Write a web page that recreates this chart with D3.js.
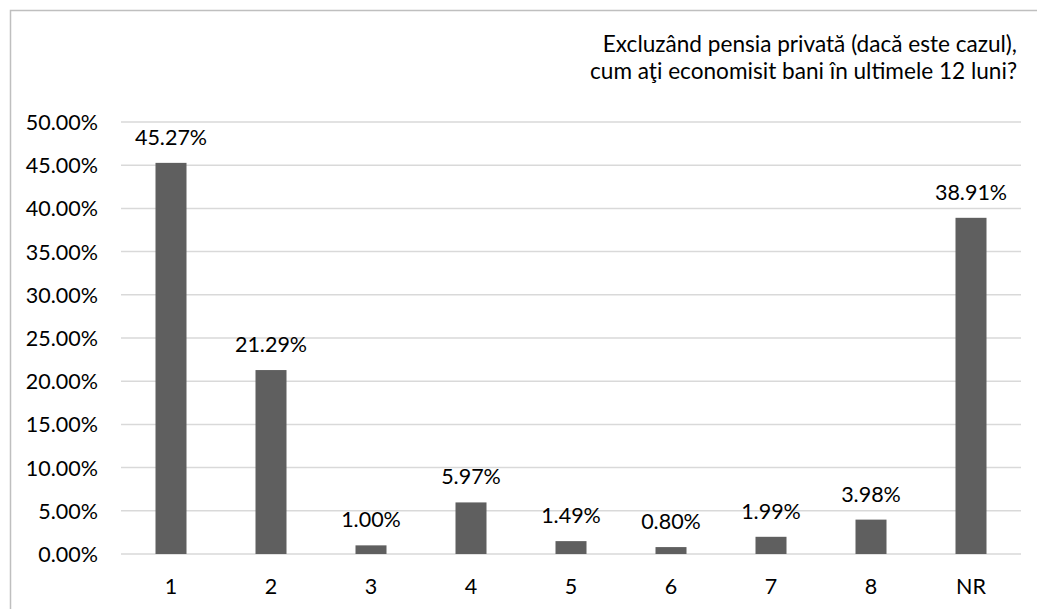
<!DOCTYPE html>
<html><head><meta charset="utf-8">
<script src="https://cdn.jsdelivr.net/npm/d3@7"></script>
<style>
body{margin:0;background:#fff;}
svg{display:block;}
text{font-family:Lato,"Open Sans",sans-serif;fill:#000;}
</style></head>
<body>
<svg id="c" width="1037" height="609"></svg>
<script>
const categories = ["1","2","3","4","5","6","7","8","NR"];
const values = [45.27, 21.29, 1.00, 5.97, 1.49, 0.80, 1.99, 3.98, 38.91];
const yTicks = [0,5,10,15,20,25,30,35,40,45,50];
const titleLines = ["Excluzând pensia privată (dacă este cazul),", "cum aţi economisit bani în ultimele 12 luni?"];

const svg = d3.select("#c");
const fs = 21.5;
const tfs = 22.6;
// frame
svg.append("path").attr("d","M10.5,609 V10.5 H1037").attr("fill","none").attr("stroke","#bfbfbf").attr("stroke-width",1.5);

const x = d3.scaleBand().domain(categories).range([121,1021]).paddingInner(0.69).paddingOuter(0.345);
const y = d3.scaleLinear().domain([0,50]).range([554,122]);

// gridlines
svg.append("g").selectAll("line").data(yTicks).join("line")
  .attr("x1",121).attr("x2",1021)
  .attr("y1",d=>y(d)).attr("y2",d=>y(d))
  .attr("stroke","#d9d9d9").attr("stroke-width",1.5);

// y axis
const yAxis = svg.append("g").attr("transform","translate(98,0)")
  .call(d3.axisLeft(y).tickValues(yTicks).tickSize(0).tickPadding(0).tickFormat(d=>d.toFixed(2)+"%"));
yAxis.select(".domain").remove();
yAxis.selectAll("text").attr("font-size",fs).attr("font-family","Lato").attr("fill","#000").attr("dy","0.35em");

// x axis
const xAxis = svg.append("g").attr("transform","translate(0,554)")
  .call(d3.axisBottom(x).tickSize(0).tickPadding(0));
xAxis.select(".domain").remove();
xAxis.selectAll("text").attr("font-size",fs).attr("font-family","Lato").attr("fill","#000").attr("y",40).attr("dy",0);

// bars
const data = categories.map((c,i)=>({c,v:values[i]}));
svg.append("g").selectAll("rect").data(data).join("rect")
  .attr("x",d=>x(d.c)).attr("width",x.bandwidth())
  .attr("y",d=>y(d.v)).attr("height",d=>y(0)-y(d.v))
  .attr("fill","#5f5f5f");

// labels
svg.append("g").selectAll("text").data(data).join("text")
  .attr("x",d=>x(d.c)+x.bandwidth()/2).attr("y",d=>y(d.v)-18)
  .attr("text-anchor","middle").attr("font-size",fs)
  .text(d=>d.v.toFixed(2)+"%");

// title
svg.append("g").selectAll("text").data(titleLines).join("text")
  .attr("x",1017).attr("y",(d,i)=>52+i*27).attr("text-anchor","end").attr("font-size",tfs)
  .text(d=>d);
</script>
</body></html>
